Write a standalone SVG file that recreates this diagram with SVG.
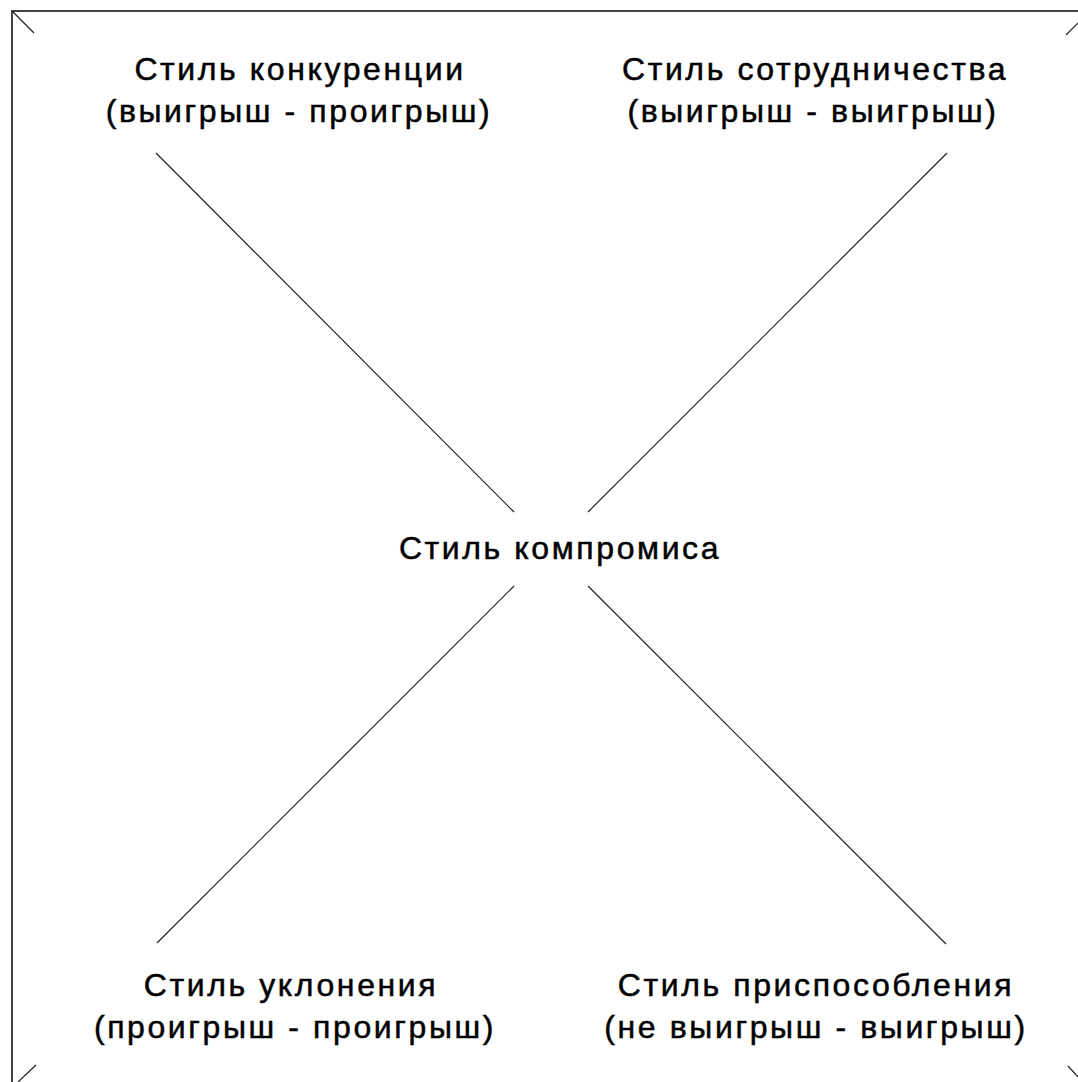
<svg xmlns="http://www.w3.org/2000/svg" width="1078" height="1082" viewBox="0 0 1078 1082">
<style>
text{font-family:"Liberation Sans",Arial,sans-serif;font-size:32px;letter-spacing:2.6px;fill:#000;stroke:#000;stroke-width:0.5px;text-anchor:middle}
.frame{fill:none;stroke:#444;stroke-width:2}
.ln{stroke:#222;stroke-width:1.2;fill:none}
</style>
<rect width="1078" height="1082" fill="#fff"/>
<path class="frame" d="M12,1090 V11 H1090"/>
<g id="connectors">
<line class="ln" x1="12" y1="11" x2="34" y2="33"/>
<line class="ln" x1="1066" y1="35" x2="1080" y2="21"/>
<line class="ln" x1="18" y1="1082" x2="36" y2="1065"/>
<line class="ln" x1="1068" y1="1066" x2="1080" y2="1079"/>
<line class="ln" x1="156" y1="153" x2="514" y2="512"/>
<line class="ln" x1="947" y1="153" x2="588" y2="512"/>
<line class="ln" x1="514" y1="586" x2="157" y2="943"/>
<line class="ln" x1="588" y1="586" x2="946" y2="944"/>
</g>
<g id="competition"><text x="300" y="80">Стиль конкуренции</text><text x="299" y="122">(выигрыш - проигрыш)</text></g>
<g id="cooperation"><text x="815" y="80">Стиль сотрудничества</text><text x="813" y="122">(выигрыш - выигрыш)</text></g>
<g id="compromise"><text x="560" y="559">Стиль компромиса</text></g>
<g id="avoidance"><text x="291" y="996">Стиль уклонения</text><text x="295" y="1038">(проигрыш - проигрыш)</text></g>
<g id="accommodation"><text x="816" y="996">Стиль приспособления</text><text x="816" y="1038">(не выигрыш - выигрыш)</text></g>
</svg>
